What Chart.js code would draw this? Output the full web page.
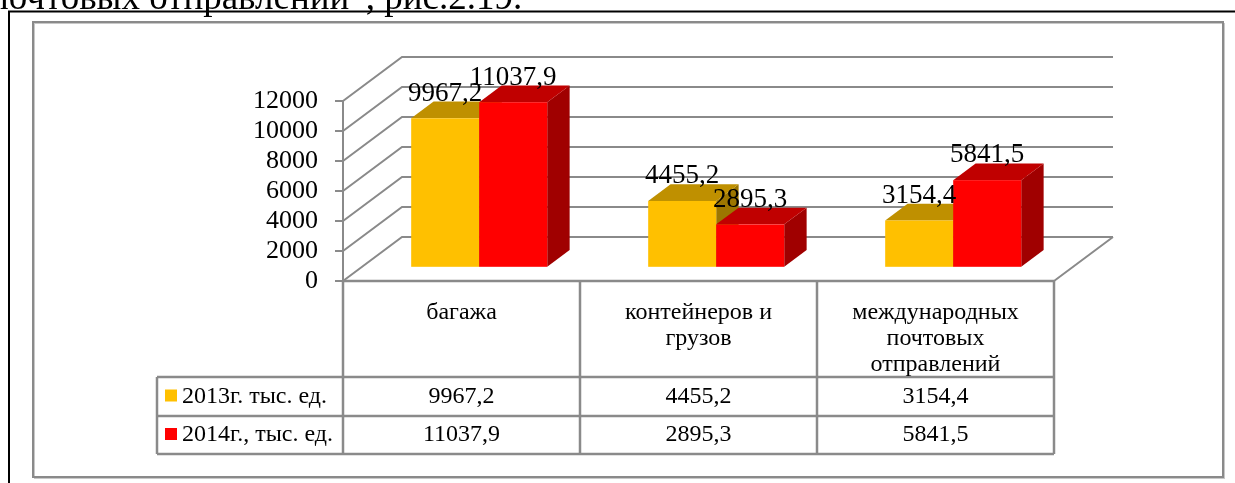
<!DOCTYPE html>
<html>
<head>
<meta charset="utf-8">
<script src="https://cdn.jsdelivr.net/npm/chart.js@4.4.0/dist/chart.umd.min.js"></script>
<style>
  html, body { margin: 0; padding: 0; background: #fff; }
  canvas { display: block; }
</style>
</head>
<body>
<canvas id="chart" width="1235" height="483"></canvas>
<script>
const categories = [['багажа'], ['контейнеров и', 'грузов'], ['международных', 'почтовых', 'отправлений']];
const seriesNames = ['2013г. тыс. ед.', '2014г., тыс. ед.'];
const values2013 = [9967.2, 4455.2, 3154.4];
const values2014 = [11037.9, 2895.3, 5841.5];
const yMax = 12000;
const yStep = 2000;
const pageTitle = 'почтовых отправлений”, рис.2.19.';

const FONT = '"Liberation Serif", "Times New Roman", serif';
const GRID = '#8a8a8a';
// depth of the 3d floor, and where the bars sit in it
const DEPTH = { dx: 59, dy: -44 };
const BAR_FRONT = 0.3, BAR_BACK = 0.68;
const faces = [
    { front: '#ffc000', top: '#bf9000', side: '#9c7600' },
    { front: '#ff0000', top: '#c00000', side: '#a00000' }
];

function fmt(v) {
    return v.toFixed(1).replace('.', ',');
}

const chart3d = {
    id: 'chart3d',
    beforeDraw(chart) {
        const ctx = chart.ctx;
        ctx.save();
        // page text cut at the top
        ctx.fillStyle = '#000';
        ctx.font = '37px ' + FONT;
        ctx.textBaseline = 'alphabetic';
        ctx.fillText(pageTitle, -11, 9);
        // page frame
        ctx.strokeStyle = '#000';
        ctx.lineWidth = 2;
        ctx.beginPath();
        ctx.moveTo(9, 483);
        ctx.lineTo(9, 11.5);
        ctx.lineTo(1235, 11.5);
        ctx.stroke();
        // chart frame
        ctx.strokeStyle = '#c8c8c8';
        ctx.lineWidth = 1;
        ctx.strokeRect(34.5, 23.5, 1190, 455);
        ctx.strokeStyle = '#8a8a8a';
        ctx.lineWidth = 2;
        ctx.strokeRect(33, 22, 1190, 455);
        ctx.restore();
    },
    beforeDatasetsDraw(chart) {
        const ctx = chart.ctx;
        const { left, right, bottom } = chart.chartArea;
        const y = chart.scales.y;
        ctx.save();
        ctx.strokeStyle = GRID;
        ctx.lineWidth = 2;
        ctx.beginPath();
        y.ticks.forEach(t => {
            const py = y.getPixelForValue(t.value);
            ctx.moveTo(left, py);
            ctx.lineTo(left + DEPTH.dx, py + DEPTH.dy);
            ctx.lineTo(right + DEPTH.dx, py + DEPTH.dy);
        });
        ctx.moveTo(right, bottom);
        ctx.lineTo(right + DEPTH.dx, bottom + DEPTH.dy);
        ctx.stroke();
        ctx.restore();
    },
    beforeDatasetDraw() {
        return false;
    },
    afterDatasetsDraw(chart) {
        const ctx = chart.ctx;
        const n = chart.data.labels.length;
        const labels = [];
        ctx.save();
        for (let i = 0; i < n; i++) {
            chart.data.datasets.forEach((ds, d) => {
                const el = chart.getDatasetMeta(d).data[i];
                const p = el.getProps(['x', 'y', 'base', 'width'], true);
                const fx = p.x - p.width / 2 + DEPTH.dx * BAR_FRONT;
                const fy = p.y + DEPTH.dy * BAR_FRONT;
                const fb = p.base + DEPTH.dy * BAR_FRONT;
                const w = p.width;
                const ddx = DEPTH.dx * (BAR_BACK - BAR_FRONT);
                const ddy = DEPTH.dy * (BAR_BACK - BAR_FRONT);
                const c = faces[d];
                // side
                ctx.fillStyle = c.side;
                ctx.beginPath();
                ctx.moveTo(fx + w, fy);
                ctx.lineTo(fx + w + ddx, fy + ddy);
                ctx.lineTo(fx + w + ddx, fb + ddy);
                ctx.lineTo(fx + w, fb);
                ctx.closePath();
                ctx.fill();
                // top
                ctx.fillStyle = c.top;
                ctx.beginPath();
                ctx.moveTo(fx, fy);
                ctx.lineTo(fx + ddx, fy + ddy);
                ctx.lineTo(fx + w + ddx, fy + ddy);
                ctx.lineTo(fx + w, fy);
                ctx.closePath();
                ctx.fill();
                // front
                ctx.fillStyle = c.front;
                ctx.fillRect(fx, fy, w, fb - fy);
                labels.push({ text: fmt(ds.data[i]), x: fx + w / 2, y: fy + ddy - 1 });
            });
        }
        ctx.fillStyle = '#000';
        ctx.font = '27px ' + FONT;
        ctx.textAlign = 'center';
        ctx.textBaseline = 'alphabetic';
        labels.forEach(l => ctx.fillText(l.text, l.x, l.y));
        ctx.restore();
    },
    afterDraw(chart) {
        const ctx = chart.ctx;
        const { left, right, bottom } = chart.chartArea;
        const n = chart.data.labels.length;
        const colW = (right - left) / n;
        const legendLeft = 157;
        const rows = [bottom, 377, 416, 454];
        ctx.save();
        // table lines
        ctx.strokeStyle = GRID;
        ctx.lineWidth = 2.5;
        ctx.beginPath();
        for (let i = 0; i <= n; i++) {
            const x = left + colW * i;
            ctx.moveTo(x, bottom);
            ctx.lineTo(x, rows[3]);
        }
        ctx.moveTo(left, bottom);
        ctx.lineTo(right, bottom);
        for (let r = 1; r < rows.length; r++) {
            ctx.moveTo(legendLeft, rows[r]);
            ctx.lineTo(right, rows[r]);
        }
        ctx.moveTo(legendLeft, rows[1]);
        ctx.lineTo(legendLeft, rows[3]);
        ctx.stroke();

        ctx.fillStyle = '#000';
        ctx.textBaseline = 'middle';
        ctx.textAlign = 'center';
        // category header
        ctx.font = '24px ' + FONT;
        chart.data.labels.forEach((lines, i) => {
            const cx = chart.scales.x.getPixelForValue(i);
            lines.forEach((line, k) => ctx.fillText(line, cx, 313 + k * 26));
        });
        // values and legend
        chart.data.datasets.forEach((ds, d) => {
            const cy = (rows[d + 1] + rows[d + 2]) / 2;
            ctx.font = '24px ' + FONT;
            ctx.textAlign = 'center';
            ctx.fillStyle = '#000';
            ds.data.forEach((v, i) => ctx.fillText(fmt(v), chart.scales.x.getPixelForValue(i), cy));
            ctx.fillStyle = faces[d].front;
            ctx.fillRect(165, cy - 7, 12, 12);
            ctx.fillStyle = '#000';
            ctx.textAlign = 'left';
            ctx.fillText(ds.label, 182, cy);
        });
        // y axis goes down through the table
        ctx.lineWidth = 2;
        ctx.beginPath();
        ctx.moveTo(left, bottom);
        ctx.lineTo(left, rows[3]);
        ctx.stroke();
        ctx.restore();
    }
};

new Chart(document.getElementById('chart'), {
    type: 'bar',
    data: {
        labels: categories,
        datasets: [
            { label: seriesNames[0], data: values2013, backgroundColor: faces[0].front },
            { label: seriesNames[1], data: values2014, backgroundColor: faces[1].front }
        ]
    },
    options: {
        responsive: false,
        animation: false,
        events: [],
        layout: { padding: { top: 101, bottom: 202, right: 181, left: 0 } },
        datasets: { bar: { categoryPercentage: 0.574, barPercentage: 1 } },
        plugins: { legend: { display: false }, tooltip: { enabled: false } },
        scales: {
            x: { display: false },
            y: {
                min: 0,
                max: yMax,
                ticks: {
                    stepSize: yStep,
                    autoSkip: false,
                    color: '#000',
                    padding: 17,
                    font: { family: FONT, size: 26 },
                    callback: v => String(v)
                },
                grid: { drawOnChartArea: false, tickLength: 8, color: GRID, lineWidth: 2 },
                border: { color: GRID, width: 2 },
                afterFit(scale) { scale.width = 343; }
            }
        }
    },
    plugins: [chart3d]
});
</script>
</body>
</html>
